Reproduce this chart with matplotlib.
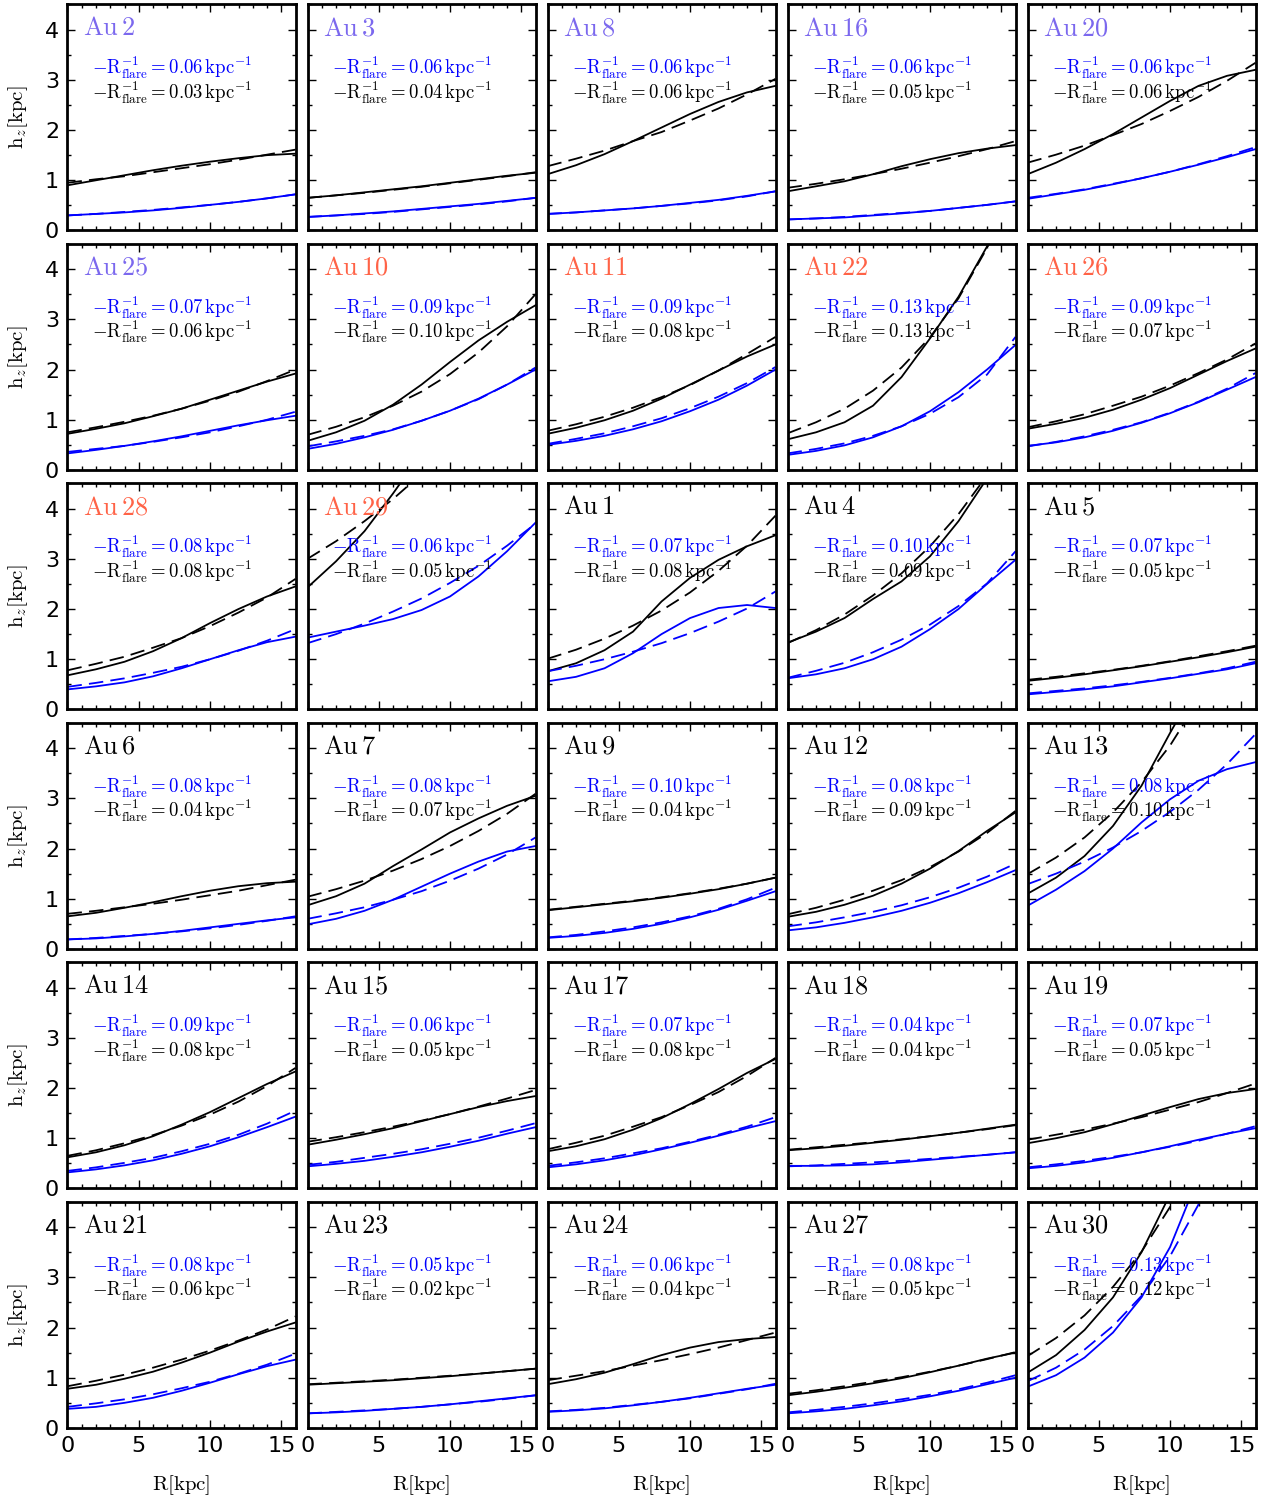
import numpy as np
import matplotlib
matplotlib.use('Agg')
from matplotlib import pyplot as plt
from matplotlib.ticker import MultipleLocator

plt.rcParams['mathtext.fontset'] = 'cm'
plt.rcParams['xtick.direction'] = 'in'
plt.rcParams['ytick.direction'] = 'in'
plt.rcParams['xtick.top'] = True
plt.rcParams['ytick.right'] = True

R = [0, 2, 4, 6, 8, 10, 12, 14, 16]

names = ['Au 2', 'Au 3', 'Au 8', 'Au 16', 'Au 20',
         'Au 25', 'Au 10', 'Au 11', 'Au 22', 'Au 26',
         'Au 28', 'Au 29', 'Au 1', 'Au 4', 'Au 5',
         'Au 6', 'Au 7', 'Au 9', 'Au 12', 'Au 13',
         'Au 14', 'Au 15', 'Au 17', 'Au 18', 'Au 19',
         'Au 21', 'Au 23', 'Au 24', 'Au 27', 'Au 30']

name_colors = ['mediumslateblue'] * 6 + ['tomato'] * 6 + ['black'] * 18

flare_blue = [0.06, 0.06, 0.06, 0.06, 0.06,
              0.07, 0.09, 0.09, 0.13, 0.09,
              0.08, 0.06, 0.07, 0.10, 0.07,
              0.08, 0.08, 0.10, 0.08, 0.08,
              0.09, 0.06, 0.07, 0.04, 0.07,
              0.08, 0.05, 0.06, 0.08, 0.13]
flare_black = [0.03, 0.04, 0.06, 0.05, 0.06,
               0.06, 0.10, 0.08, 0.13, 0.07,
               0.08, 0.05, 0.08, 0.09, 0.05,
               0.04, 0.07, 0.04, 0.09, 0.10,
               0.08, 0.05, 0.08, 0.04, 0.05,
               0.06, 0.02, 0.04, 0.05, 0.12]

# scale height profiles (solid) and exponential fits (dashed), kpc
black_solid = [
    [0.90, 1.00, 1.10, 1.20, 1.29, 1.37, 1.44, 1.50, 1.53],
    [0.65, 0.70, 0.76, 0.82, 0.88, 0.95, 1.02, 1.09, 1.15],
    [1.12, 1.30, 1.52, 1.78, 2.05, 2.32, 2.56, 2.75, 2.88],
    [0.78, 0.88, 0.98, 1.12, 1.28, 1.42, 1.54, 1.63, 1.70],
    [1.12, 1.35, 1.62, 1.92, 2.25, 2.58, 2.88, 3.08, 3.20],
    [0.72, 0.82, 0.93, 1.07, 1.22, 1.40, 1.58, 1.76, 1.92],
    [0.58, 0.75, 0.98, 1.30, 1.70, 2.15, 2.58, 2.95, 3.28],
    [0.72, 0.84, 0.99, 1.18, 1.42, 1.70, 1.98, 2.26, 2.50],
    [0.61, 0.75, 0.95, 1.28, 1.85, 2.62, 3.45, 4.45, 5.60],
    [0.82, 0.92, 1.04, 1.20, 1.40, 1.63, 1.90, 2.17, 2.42],
    [0.68, 0.80, 0.95, 1.16, 1.42, 1.72, 2.00, 2.25, 2.45],
    [2.43, 2.95, 3.55, 4.30, 5.10, 5.90, 6.70, 7.50, 8.30],
    [0.76, 0.92, 1.18, 1.55, 2.15, 2.62, 2.98, 3.25, 3.47],
    [1.33, 1.55, 1.82, 2.20, 2.55, 3.05, 3.75, 4.60, 5.50],
    [0.57, 0.63, 0.70, 0.78, 0.86, 0.95, 1.04, 1.14, 1.25],
    [0.65, 0.72, 0.82, 0.93, 1.05, 1.16, 1.25, 1.31, 1.34],
    [0.87, 1.05, 1.30, 1.65, 1.98, 2.32, 2.60, 2.85, 3.05],
    [0.77, 0.83, 0.89, 0.95, 1.02, 1.10, 1.19, 1.30, 1.42],
    [0.64, 0.74, 0.88, 1.06, 1.30, 1.60, 1.95, 2.35, 2.72],
    [1.10, 1.42, 1.85, 2.45, 3.25, 4.30, 5.30, 6.30, 7.30],
    [0.62, 0.72, 0.86, 1.04, 1.27, 1.52, 1.80, 2.08, 2.33],
    [0.87, 0.97, 1.08, 1.20, 1.34, 1.48, 1.62, 1.74, 1.84],
    [0.74, 0.84, 0.98, 1.17, 1.40, 1.68, 1.98, 2.30, 2.58],
    [0.76, 0.80, 0.85, 0.91, 0.97, 1.04, 1.11, 1.19, 1.27],
    [0.90, 1.00, 1.12, 1.28, 1.45, 1.62, 1.78, 1.90, 1.98],
    [0.78, 0.86, 0.98, 1.12, 1.30, 1.50, 1.72, 1.92, 2.10],
    [0.86, 0.89, 0.92, 0.95, 0.99, 1.03, 1.08, 1.13, 1.18],
    [0.87, 0.97, 1.10, 1.27, 1.45, 1.60, 1.71, 1.77, 1.81],
    [0.65, 0.72, 0.80, 0.89, 0.99, 1.11, 1.24, 1.38, 1.50],
    [1.10, 1.45, 1.95, 2.60, 3.50, 4.65, 6.10, 8.00, 10.4],
]
black_fit = [
    [0.95, 1.02, 1.08, 1.16, 1.24, 1.32, 1.41, 1.51, 1.61],
    [0.65, 0.70, 0.75, 0.81, 0.87, 0.94, 1.01, 1.08, 1.16],
    [1.28, 1.43, 1.59, 1.78, 1.96, 2.19, 2.43, 2.71, 3.02],
    [0.85, 0.93, 1.02, 1.12, 1.23, 1.35, 1.48, 1.62, 1.78],
    [1.35, 1.51, 1.69, 1.90, 2.12, 2.38, 2.66, 2.98, 3.34],
    [0.75, 0.85, 0.96, 1.08, 1.22, 1.38, 1.56, 1.77, 2.00],
    [0.70, 0.86, 1.05, 1.28, 1.56, 1.91, 2.34, 2.86, 3.50],
    [0.78, 0.91, 1.06, 1.24, 1.45, 1.69, 1.98, 2.31, 2.65],
    [0.73, 0.95, 1.22, 1.58, 2.04, 2.64, 3.42, 4.42, 5.72],
    [0.85, 0.97, 1.11, 1.28, 1.46, 1.68, 1.93, 2.20, 2.52],
    [0.78, 0.91, 1.05, 1.23, 1.42, 1.66, 1.93, 2.23, 2.60],
    [3.00, 3.35, 3.75, 4.19, 4.69, 5.24, 5.86, 6.55, 7.30],
    [1.01, 1.19, 1.41, 1.67, 1.97, 2.33, 2.76, 3.26, 3.86],
    [1.32, 1.58, 1.89, 2.27, 2.71, 3.25, 3.89, 4.66, 5.58],
    [0.59, 0.65, 0.72, 0.79, 0.87, 0.96, 1.06, 1.16, 1.27],
    [0.70, 0.76, 0.83, 0.90, 0.98, 1.07, 1.16, 1.27, 1.38],
    [1.04, 1.19, 1.36, 1.56, 1.79, 2.05, 2.35, 2.69, 3.09],
    [0.78, 0.84, 0.90, 0.96, 1.03, 1.11, 1.20, 1.30, 1.42],
    [0.69, 0.82, 0.98, 1.16, 1.37, 1.63, 1.94, 2.31, 2.75],
    [1.49, 1.82, 2.22, 2.72, 3.32, 4.05, 4.95, 6.00, 7.40],
    [0.65, 0.76, 0.90, 1.06, 1.25, 1.47, 1.73, 2.04, 2.40],
    [0.93, 1.02, 1.12, 1.23, 1.35, 1.48, 1.63, 1.79, 1.96],
    [0.78, 0.91, 1.05, 1.23, 1.42, 1.66, 1.92, 2.24, 2.60],
    [0.77, 0.82, 0.87, 0.92, 0.98, 1.04, 1.11, 1.18, 1.26],
    [0.97, 1.07, 1.17, 1.29, 1.42, 1.57, 1.72, 1.90, 2.09],
    [0.83, 0.94, 1.06, 1.20, 1.36, 1.54, 1.74, 1.96, 2.22],
    [0.87, 0.90, 0.93, 0.96, 1.00, 1.04, 1.08, 1.13, 1.18],
    [0.95, 1.04, 1.13, 1.24, 1.35, 1.47, 1.60, 1.75, 1.90],
    [0.68, 0.75, 0.83, 0.92, 1.01, 1.12, 1.24, 1.37, 1.51],
    [1.43, 1.79, 2.24, 2.81, 3.51, 4.40, 5.51, 6.90, 8.64],
]
blue_solid = [
    [0.30, 0.33, 0.36, 0.40, 0.45, 0.51, 0.57, 0.64, 0.72],
    [0.27, 0.30, 0.34, 0.38, 0.43, 0.48, 0.53, 0.59, 0.65],
    [0.33, 0.36, 0.40, 0.44, 0.49, 0.55, 0.61, 0.69, 0.78],
    [0.22, 0.24, 0.26, 0.30, 0.34, 0.39, 0.45, 0.51, 0.58],
    [0.63, 0.72, 0.81, 0.92, 1.04, 1.17, 1.31, 1.46, 1.62],
    [0.33, 0.40, 0.48, 0.57, 0.67, 0.78, 0.89, 0.99, 1.08],
    [0.42, 0.52, 0.65, 0.80, 0.98, 1.18, 1.42, 1.70, 2.00],
    [0.50, 0.58, 0.68, 0.81, 0.97, 1.17, 1.40, 1.68, 2.00],
    [0.30, 0.38, 0.49, 0.65, 0.87, 1.17, 1.55, 2.00, 2.49],
    [0.48, 0.55, 0.65, 0.78, 0.94, 1.13, 1.35, 1.60, 1.85],
    [0.40, 0.46, 0.54, 0.66, 0.82, 1.00, 1.18, 1.34, 1.45],
    [1.43, 1.55, 1.67, 1.80, 1.98, 2.25, 2.65, 3.15, 3.72],
    [0.56, 0.65, 0.82, 1.12, 1.50, 1.82, 2.02, 2.08, 2.02],
    [0.62, 0.70, 0.82, 1.00, 1.25, 1.60, 2.00, 2.50, 2.98],
    [0.30, 0.35, 0.40, 0.46, 0.54, 0.62, 0.71, 0.80, 0.92],
    [0.19, 0.21, 0.25, 0.30, 0.36, 0.43, 0.50, 0.57, 0.63],
    [0.49, 0.60, 0.76, 0.98, 1.24, 1.50, 1.74, 1.94, 2.05],
    [0.22, 0.26, 0.32, 0.40, 0.50, 0.63, 0.78, 0.96, 1.15],
    [0.37, 0.43, 0.52, 0.63, 0.76, 0.92, 1.11, 1.33, 1.57],
    [0.86, 1.18, 1.55, 2.00, 2.52, 2.98, 3.35, 3.58, 3.72],
    [0.32, 0.38, 0.46, 0.56, 0.69, 0.84, 1.02, 1.22, 1.43],
    [0.44, 0.49, 0.55, 0.63, 0.72, 0.83, 0.95, 1.09, 1.22],
    [0.42, 0.48, 0.56, 0.66, 0.78, 0.91, 1.05, 1.20, 1.34],
    [0.45, 0.45, 0.46, 0.48, 0.52, 0.57, 0.62, 0.67, 0.72],
    [0.40, 0.45, 0.52, 0.61, 0.72, 0.84, 0.97, 1.09, 1.20],
    [0.38, 0.42, 0.50, 0.60, 0.74, 0.90, 1.07, 1.23, 1.36],
    [0.29, 0.31, 0.34, 0.38, 0.42, 0.47, 0.53, 0.59, 0.65],
    [0.32, 0.35, 0.39, 0.45, 0.52, 0.60, 0.69, 0.78, 0.86],
    [0.29, 0.33, 0.38, 0.45, 0.53, 0.63, 0.74, 0.87, 1.00],
    [0.82, 1.05, 1.40, 1.90, 2.60, 3.60, 5.00, 6.80, 9.00],
]
blue_fit = [
    [0.30, 0.33, 0.37, 0.41, 0.46, 0.51, 0.57, 0.64, 0.72],
    [0.27, 0.30, 0.33, 0.37, 0.42, 0.47, 0.52, 0.58, 0.65],
    [0.33, 0.36, 0.40, 0.44, 0.49, 0.54, 0.60, 0.68, 0.78],
    [0.22, 0.24, 0.27, 0.31, 0.35, 0.39, 0.45, 0.51, 0.58],
    [0.65, 0.73, 0.82, 0.93, 1.04, 1.17, 1.32, 1.48, 1.66],
    [0.36, 0.42, 0.48, 0.56, 0.65, 0.75, 0.87, 1.00, 1.16],
    [0.47, 0.57, 0.68, 0.81, 0.98, 1.18, 1.41, 1.70, 2.04],
    [0.52, 0.62, 0.73, 0.87, 1.03, 1.23, 1.46, 1.73, 2.05],
    [0.33, 0.42, 0.53, 0.68, 0.87, 1.12, 1.45, 1.90, 2.65],
    [0.47, 0.56, 0.67, 0.80, 0.95, 1.14, 1.36, 1.62, 1.93],
    [0.45, 0.53, 0.62, 0.73, 0.85, 1.00, 1.17, 1.37, 1.60],
    [1.32, 1.50, 1.71, 1.95, 2.21, 2.52, 2.86, 3.26, 3.70],
    [0.76, 0.87, 1.00, 1.15, 1.32, 1.52, 1.75, 2.01, 2.35],
    [0.63, 0.77, 0.93, 1.14, 1.39, 1.69, 2.06, 2.51, 3.15],
    [0.32, 0.37, 0.42, 0.48, 0.55, 0.63, 0.72, 0.82, 0.95],
    [0.19, 0.22, 0.26, 0.30, 0.35, 0.41, 0.48, 0.56, 0.65],
    [0.60, 0.71, 0.83, 0.98, 1.15, 1.36, 1.60, 1.88, 2.22],
    [0.23, 0.28, 0.35, 0.43, 0.53, 0.65, 0.80, 0.99, 1.22],
    [0.45, 0.53, 0.63, 0.74, 0.87, 1.03, 1.22, 1.44, 1.70],
    [1.29, 1.50, 1.74, 2.02, 2.35, 2.73, 3.17, 3.68, 4.28],
    [0.35, 0.42, 0.51, 0.61, 0.74, 0.89, 1.07, 1.29, 1.55],
    [0.47, 0.53, 0.61, 0.69, 0.78, 0.89, 1.01, 1.15, 1.30],
    [0.45, 0.52, 0.60, 0.70, 0.80, 0.93, 1.07, 1.23, 1.42],
    [0.44, 0.46, 0.49, 0.52, 0.55, 0.59, 0.63, 0.67, 0.72],
    [0.42, 0.48, 0.55, 0.63, 0.72, 0.83, 0.95, 1.09, 1.24],
    [0.42, 0.49, 0.57, 0.67, 0.79, 0.92, 1.08, 1.26, 1.48],
    [0.29, 0.32, 0.35, 0.38, 0.42, 0.47, 0.52, 0.58, 0.65],
    [0.33, 0.36, 0.40, 0.46, 0.52, 0.59, 0.68, 0.77, 0.88],
    [0.31, 0.36, 0.42, 0.49, 0.57, 0.66, 0.77, 0.90, 1.05],
    [0.93, 1.20, 1.56, 2.03, 2.63, 3.42, 4.45, 5.77, 7.50],
]

fig, axs = plt.subplots(nrows=6, ncols=5, figsize=(12.64, 14.99), dpi=100,
                        sharex=True, sharey=True)
fig.subplots_adjust(left=0.0534, right=0.9933, top=0.997, bottom=0.0474,
                    wspace=0.0526, hspace=0.0597)

for i, ax in enumerate(axs.flat):
    ax.plot(R, black_solid[i], color='k', lw=1.3)
    ax.plot(R, black_fit[i], color='k', lw=1.3, ls=(0, (8, 4)))
    ax.plot(R, blue_solid[i], color='b', lw=1.3)
    ax.plot(R, blue_fit[i], color='b', lw=1.3, ls=(0, (8, 4)))

    ax.axis([0, 16, 0, 4.5])
    ax.xaxis.set_major_locator(MultipleLocator(5))
    ax.xaxis.set_minor_locator(MultipleLocator(1))
    ax.yaxis.set_major_locator(MultipleLocator(1))
    ax.yaxis.set_minor_locator(MultipleLocator(0.5))
    ax.tick_params(which='major', length=6, width=1, labelsize=16, pad=6)
    ax.tick_params(which='minor', length=3, width=1)
    for sp in ax.spines.values():
        sp.set_linewidth(2)

    ax.text(0.067, 0.895, r'$\rm ' + names[i].replace(' ', r'\,') + '$',
            transform=ax.transAxes, fontsize=19, color=name_colors[i],
            ha='left', va='center')
    ax.text(0.107, 0.69, r'$-\mathrm{R_{flare}^{-1}=%.2f\,kpc^{-1}}$' % flare_blue[i],
            transform=ax.transAxes, fontsize=13.5, color='b', ha='left', va='baseline')
    ax.text(0.107, 0.583, r'$-\mathrm{R_{flare}^{-1}=%.2f\,kpc^{-1}}$' % flare_black[i],
            transform=ax.transAxes, fontsize=13.5, color='k', ha='left', va='baseline')

for ax in axs[:, 0]:
    ax.set_ylabel(r'$\mathrm{h}_z\mathrm{[kpc]}$', fontsize=15, labelpad=11)
for ax in axs[-1, :]:
    ax.set_xlabel(r'$\mathrm{R[kpc]}$', fontsize=15, labelpad=12)

plt.savefig('out.png', dpi=100)
